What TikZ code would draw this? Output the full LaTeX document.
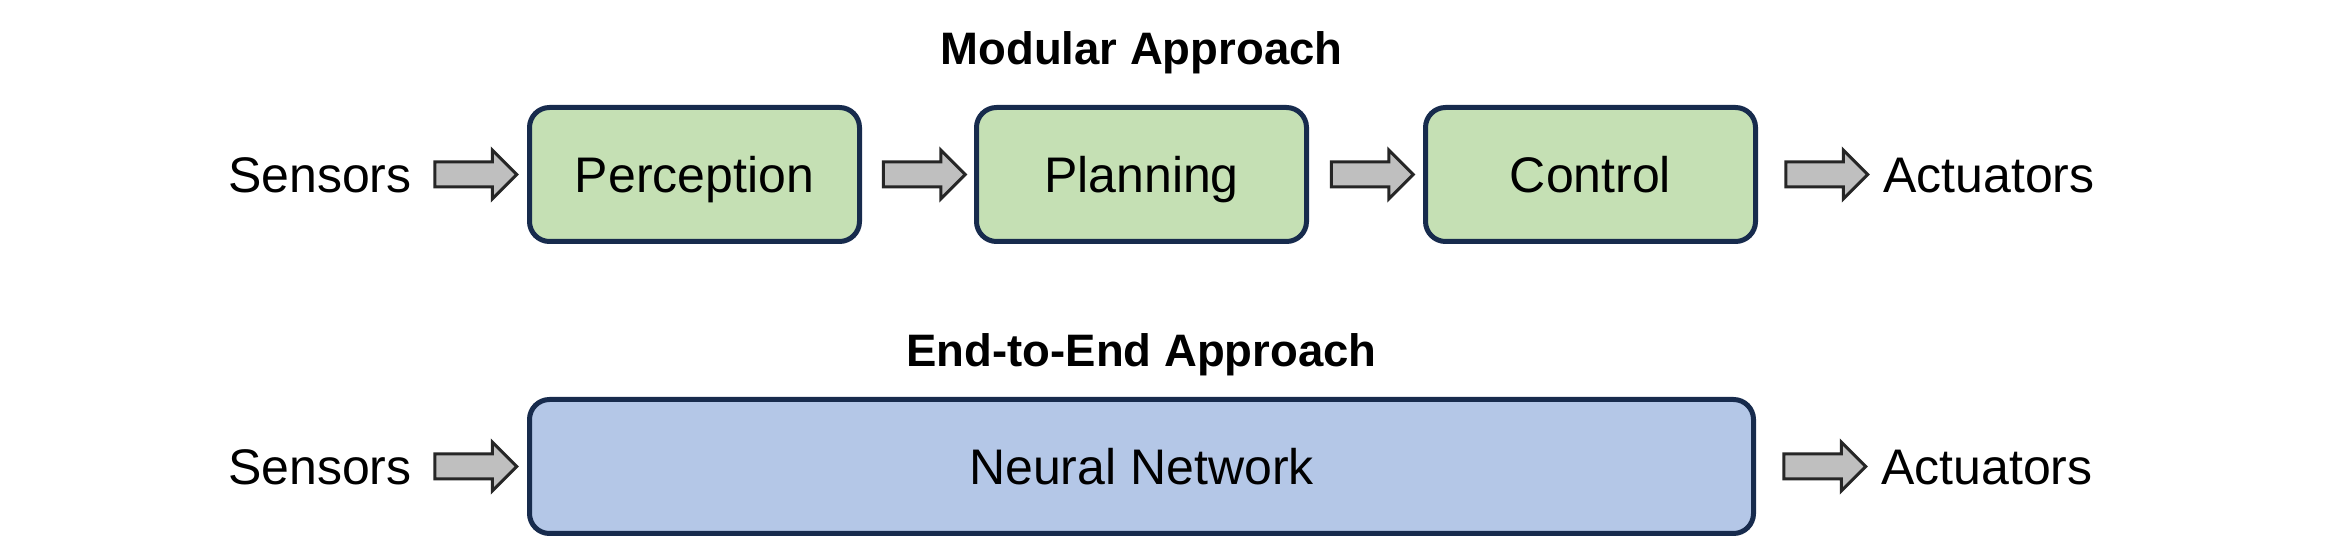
\documentclass[tikz,border=0pt]{standalone}
\usepackage{fontspec}
\setmainfont{Liberation Sans}
\usepackage{tikz}
\usetikzlibrary{positioning, shapes.arrows, calc}

\definecolor{boxline}{HTML}{172B4D}
\definecolor{modfill}{HTML}{C5E0B4}
\definecolor{netfill}{HTML}{B4C7E7}
\definecolor{arrfill}{HTML}{BFBFBF}
\definecolor{arrline}{HTML}{262626}

\tikzset{
  txt/.style={inner sep=0pt, text height=17.9pt, text depth=0pt,
    font=\fontsize{25}{30}\selectfont},
  ttl/.style={inner sep=0pt, text height=16.3pt, text depth=0pt,
    font=\fontsize{22.75}{27}\selectfont\bfseries},
  stage/.style={txt, draw=boxline, fill=modfill, line width=2.5pt,
    rounded corners=10pt, minimum width=165pt, minimum height=67pt},
  blockarrow/.style={single arrow, draw=arrline, fill=arrfill, line width=1.5pt,
    inner xsep=0pt, inner ysep=5.5pt, single arrow head extend=6pt,
    minimum height=41pt}
}

\begin{document}
\begin{tikzpicture}[x=0.5pt, y=-0.5pt, node distance=56pt]
  \useasboundingbox (0,0) rectangle (2341,555);

  % modular pipeline
  \node[stage]  (perc)  at (694.5,174.5) {Perception};
  \node[stage, right = of perc]  (plan)  {Planning};
  \node[stage, right = 57pt of plan]  (ctrl)  {Control};
  \node[txt, left = 57.5pt of perc]  (sens1)  {Sensors};
  \node[txt, right = 62.5pt of ctrl]  (act1)  {Actuators};
  \node[ttl, above = 20pt of plan]  (modttl)  {Modular Approach};

  % end-to-end
  \node[stage, fill=netfill, minimum width=612pt]  (nn)  at (1141.5,466.5) {Neural Network};
  \node[txt, left = 57.5pt of nn]  (sens2)  {Sensors};
  \node[txt, right = 62.5pt of nn]  (act2)  {Actuators};
  \node[ttl, above = 15pt of nn]  (e2ettl)  {End-to-End Approach};

  % block arrows
  \node[blockarrow] (a1) at ($(sens1.east)!0.5!(perc.west)$) {};
  \node[blockarrow] (a2) at ($(perc.east)!0.5!(plan.west)$) {};
  \node[blockarrow] (a3) at ($(plan.east)!0.5!(ctrl.west)$) {};
  \node[blockarrow] (a4) at ($(ctrl.east)!0.5!(act1.west)$) {};
  \node[blockarrow] (b1) at ($(sens2.east)!0.5!(nn.west)$) {};
  \node[blockarrow] (b2) at ($(nn.east)!0.5!(act2.west)$) {};
\end{tikzpicture}
\end{document}
